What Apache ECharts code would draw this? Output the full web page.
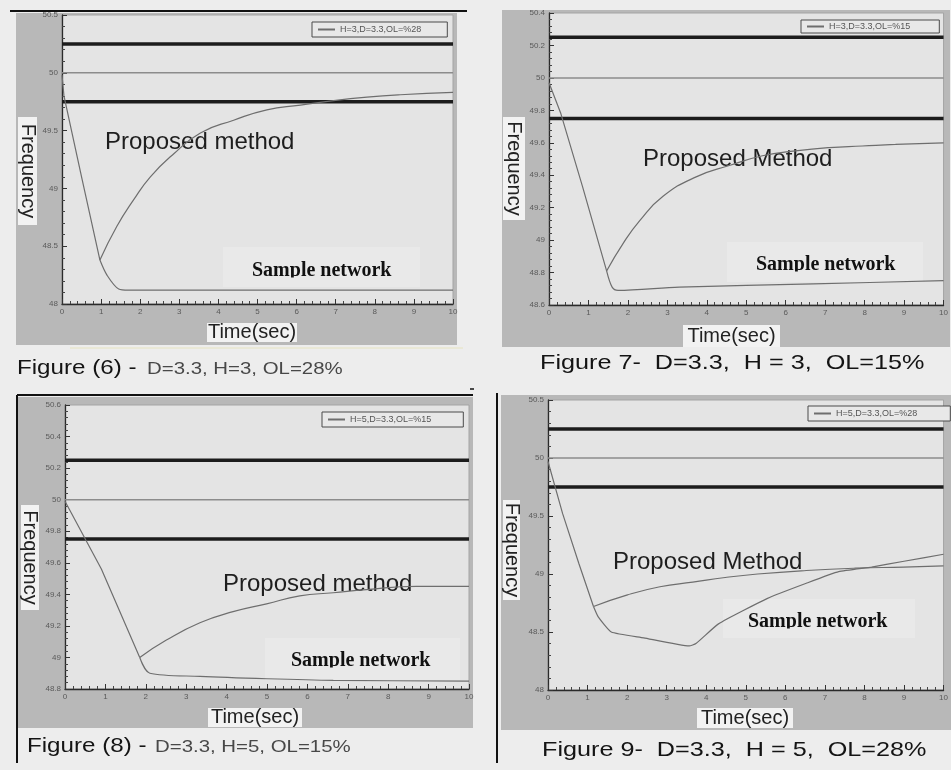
<!DOCTYPE html>
<html>
<head>
<meta charset="utf-8">
<script src="https://cdn.jsdelivr.net/npm/echarts@6/dist/echarts.min.js"></script>
<style>
  html, body { margin: 0; padding: 0; background: #ededed; }
  #chart { width: 951px; height: 770px; }
</style>
</head>
<body>
<div id="chart"></div>
<script>
// Frequency response (Hz) versus time (s) for four load-shedding cases.
// Each case: a shared initial drop, then the proposed-method branch and
// the sample-network branch.

const fig6Drop     = [[0,49.98],[0.05,49.8],[0.5,49.1],[0.97,48.38]];
const fig6Proposed = [[0.97,48.38],[1.4,48.67],[1.83,48.9],[2.26,49.1],[2.86,49.3],[3.54,49.48],[4.39,49.59],[5.24,49.68],[6.1,49.72],[6.95,49.76],[7.8,49.79],[8.65,49.81],[10,49.83]];
const fig6Sample   = [[0.97,48.38],[1.15,48.25],[1.45,48.13],[1.7,48.12],[10,48.12]];

const fig7Drop     = [[0,49.97],[0.3,49.78],[0.85,49.33],[1.46,48.81]];
const fig7Proposed = [[1.46,48.81],[1.88,48.98],[2.3,49.12],[2.89,49.27],[3.73,49.39],[4.57,49.46],[5.41,49.52],[6.25,49.55],[7.1,49.57],[7.94,49.58],[8.78,49.59],[10,49.6]];
const fig7Sample   = [[1.46,48.81],[1.6,48.71],[1.75,48.69],[3.3,48.71],[6.7,48.73],[10,48.75]];

const fig8Drop     = [[0,49.99],[0.9,49.56],[1.85,49.0]];
const fig8Proposed = [[1.85,49.0],[2.51,49.11],[3.34,49.22],[4.16,49.29],[4.99,49.34],[5.81,49.39],[6.64,49.41],[7.46,49.43],[8.7,49.45],[10,49.45]];
const fig8Sample   = [[1.85,49.0],[2.1,48.9],[3.34,48.88],[5,48.865],[6.64,48.855],[10,48.85]];

const fig9Drop     = [[0,49.97],[0.37,49.52],[0.78,49.09],[1.15,48.72]];
const fig9Proposed = [[1.15,48.72],[2.01,48.82],[2.83,48.89],[3.66,48.93],[4.48,48.97],[5.3,49.0],[6.53,49.03],[7.77,49.05],[8.99,49.06],[10,49.07]];
const fig9Sample   = [[1.15,48.72],[1.27,48.63],[1.6,48.5],[2.42,48.45],[3.57,48.38],[3.74,48.4],[4.31,48.57],[5.55,48.79],[6.53,48.92],[7.35,49.02],[8.18,49.06],[9.0,49.11],[10,49.17]];

// Frequency limits: upper band, nominal, lower band
const limitValues = [50.25, 50, 49.75];

// Axis ranges per figure: [min, max, interval]
const yRanges = [[48, 50.5, 0.5], [48.6, 50.4, 0.2], [48.8, 50.6, 0.2], [48, 50.5, 0.5]];
const xRange = [0, 10, 1];

const legendNames = ['H=3,D=3.3,OL=%28', 'H=3,D=3.3,OL=%15', 'H=5,D=3.3,OL=%15', 'H=5,D=3.3,OL=%28'];
const methodLabels = ['Proposed method', 'Proposed Method', 'Proposed method', 'Proposed Method'];
const networkLabel = 'Sample network';
const yTitle = 'Frequency';
const xTitle = 'Time(sec)';

const drops = [fig6Drop, fig7Drop, fig8Drop, fig9Drop];
const proposed = [fig6Proposed, fig7Proposed, fig8Proposed, fig9Proposed];
const samples = [fig6Sample, fig7Sample, fig8Sample, fig9Sample];

// ---- layout ----
const SANS = '"Liberation Sans", Arial, sans-serif';
const SERIF = '"Liberation Serif", "Times New Roman", serif';

const layout = [
  { grid: [62, 15, 391, 289],  frame: [16, 13, 441, 332],  legend: [312, 22, 26, 3],
    freq: [27.5, 171, 19, 108], time: [252, 332.5, 90, 19], method: [105, 142],
    box: [223, 247, 197, 40], net: [252, 277] },
  { grid: [549, 13, 396, 292], frame: [502, 10, 448, 337], legend: [801, 20, 29, 2],
    freq: [514, 168.5, 22, 103], time: [731.5, 336, 97, 22], method: [643, 159],
    box: [727, 242, 196, 40], net: [756, 271] },
  { grid: [65, 405, 404, 284], frame: [18, 397, 455, 331], legend: [322, 412, 32, 3],
    freq: [30, 557.5, 18, 105], time: [255, 717.5, 94, 19], method: [223, 584],
    box: [265, 638, 195, 42], net: [291, 667] },
  { grid: [548, 400, 406, 290], frame: [501, 395, 450, 335], legend: [808, 406, 33, 3],
    freq: [511.5, 550, 17, 100], time: [745, 718, 96, 20], method: [613, 562],
    box: [723, 599, 192, 39], net: [748, 628] }
];

const captions = [
  [{ t: 'Figure (6) -', x: 17, base: 375, fs: 21, sx: 1.15, c: '#141414' },
   { t: 'D=3.3, H=3, OL=28%', x: 147, base: 375, fs: 17, sx: 1.2, c: '#484848' }],
  [{ t: 'Figure 7-  D=3.3,  H = 3,  OL=15%', x: 540, base: 370, fs: 21, sx: 1.2, c: '#141414' }],
  [{ t: 'Figure (8) -', x: 27, base: 753, fs: 21, sx: 1.15, c: '#141414' },
   { t: 'D=3.3, H=5, OL=15%', x: 155, base: 753, fs: 17, sx: 1.2, c: '#484848' }],
  [{ t: 'Figure 9-  D=3.3,  H = 5,  OL=28%', x: 542, base: 757, fs: 21, sx: 1.2, c: '#141414' }]
];

const CURVE = '#6e6e6e';
const grids = [], xAxes = [], yAxes = [], series = [], legends = [], graphics = [];

function textEl(str, x, y, fs, family, fill, opts) {
  opts = opts || {};
  return {
    type: 'text', x: x, y: y, z: opts.z != null ? opts.z : 3,
    rotation: opts.rotation || 0, scaleX: opts.sx || 1, scaleY: 1, silent: true,
    style: {
      text: str, fill: fill, font: (opts.weight || 'normal') + ' ' + fs + 'px ' + family,
      textAlign: opts.align || 'left', align: opts.align || 'left',
      textVerticalAlign: 'middle', verticalAlign: 'middle'
    }
  };
}

layout.forEach(function (L, i) {
  const [gl, gt, gw, gh] = L.grid;
  grids.push({ left: gl, top: gt, width: gw, height: gh, show: true,
    backgroundColor: '#e4e4e4', borderColor: '#a4a4a4', borderWidth: 1 });

  const tickStyle = { color: '#333', width: 1 };
  xAxes.push({
    type: 'value', gridIndex: i, min: xRange[0], max: xRange[1], interval: xRange[2],
    axisLine: { show: true, onZero: false, lineStyle: { color: '#2a2a2a', width: 1.3 } },
    axisTick: { show: true, inside: true, length: 5, lineStyle: tickStyle },
    minorTick: { show: true, splitNumber: 5, length: 3, lineStyle: { color: '#444', width: 1 } },
    axisLabel: { fontSize: 8, color: '#5a5a5a', margin: 4, fontFamily: SANS },
    splitLine: { show: false }, minorSplitLine: { show: false }
  });
  const [ymin, ymax, yint] = yRanges[i];
  yAxes.push({
    type: 'value', gridIndex: i, min: ymin, max: ymax, interval: yint,
    axisLine: { show: true, onZero: false, lineStyle: { color: '#2a2a2a', width: 1.3 } },
    axisTick: { show: true, inside: true, length: 5, lineStyle: tickStyle },
    minorTick: { show: true, splitNumber: 5, length: 3, lineStyle: { color: '#444', width: 1 } },
    axisLabel: { fontSize: 8, color: '#5a5a5a', margin: 4, fontFamily: SANS },
    splitLine: { show: false }, minorSplitLine: { show: false }
  });

  // limit lines
  limitValues.forEach(function (v, k) {
    const nominal = k === 1;
    series.push({
      type: 'line', name: 'limit' + i + '_' + k, xAxisIndex: i, yAxisIndex: i,
      data: [[xRange[0], v], [xRange[1], v]], symbol: 'none', silent: true, z: 2,
      lineStyle: nominal ? { color: '#8c8c8c', width: 1.5 } : { color: '#1c1c1c', width: 3.5 },
      itemStyle: { color: nominal ? '#8c8c8c' : '#1c1c1c' }
    });
  });

  const common = { type: 'line', xAxisIndex: i, yAxisIndex: i, symbol: 'none', silent: true, z: 3,
    lineStyle: { color: CURVE, width: 1.2 }, itemStyle: { color: CURVE } };
  series.push(Object.assign({}, common, { name: 'drop' + i, data: drops[i], smooth: false }));
  series.push(Object.assign({}, common, { name: legendNames[i], data: proposed[i], smooth: 0.5 }));
  series.push(Object.assign({}, common, { name: 'network' + i, data: samples[i], smooth: i === 3 ? 0.15 : 0.3 }));

  const [ll, lt, lpr, lpv] = L.legend;
  legends.push({
    data: [legendNames[i]], left: ll, top: lt, orient: 'horizontal',
    icon: 'rect', itemWidth: 17, itemHeight: 2, selectedMode: false,
    padding: [lpv, lpr, lpv, 6], borderColor: '#4a4a4a', borderWidth: 1,
    backgroundColor: '#e8e8e8',
    textStyle: { fontSize: 9, color: '#555', fontFamily: SANS }
  });

  // outer grey frame
  const [fx, fy, fw, fh] = L.frame;
  graphics.push({ type: 'rect', z: -5, silent: true, shape: { x: fx, y: fy, width: fw, height: fh },
    style: { fill: '#b8b8b8' } });

  // axis titles on light boxes
  const [qx, qy, qw, qh] = L.freq;
  graphics.push({ type: 'rect', z: 1, silent: true, shape: { x: qx - qw / 2, y: qy - qh / 2, width: qw, height: qh },
    style: { fill: '#f2f2f2' } });
  graphics.push(textEl(yTitle, qx, qy, 20, SANS, '#222', { align: 'center', rotation: -Math.PI / 2, z: 2 }));
  const [tx, ty, tw, th] = L.time;
  graphics.push({ type: 'rect', z: 1, silent: true, shape: { x: tx - tw / 2, y: ty - th / 2, width: tw, height: th },
    style: { fill: '#f2f2f2' } });
  graphics.push(textEl(xTitle, tx, ty, 20, SANS, '#222', { align: 'center', z: 2 }));

  // method label
  graphics.push(textEl(methodLabels[i], L.method[0], L.method[1], 24, SANS, '#1e1e1e', { z: 1 }));

  // network label on its own box; the text is cut at its baseline
  const [bx, by, bw, bh] = L.box;
  graphics.push({ type: 'rect', z: 1, silent: true, shape: { x: bx, y: by, width: bw, height: bh },
    style: { fill: '#e9e9e9' } });
  graphics.push(textEl(networkLabel, L.net[0], L.net[1] - 6.5, 20, SERIF, '#111', { weight: 'bold', z: 1.2 }));
  graphics.push({ type: 'rect', z: 1.5, silent: true,
    shape: { x: bx, y: L.net[1] + 0.5, width: bw, height: by + bh - L.net[1] - 1.5 },
    style: { fill: '#e9e9e9' } });

  // captions
  captions[i].forEach(function (c) {
    graphics.push(textEl(c.t, c.x, c.base - 0.32 * c.fs, c.fs, SANS, c.c, { sx: c.sx, z: 3 }));
  });
});

// page rules around the figures
function rule(x1, y1, x2, y2, w, color) {
  return { type: 'line', z: 6, silent: true, shape: { x1: x1, y1: y1, x2: x2, y2: y2 },
    style: { stroke: color || '#111', lineWidth: w } };
}
graphics.push(rule(10, 11, 467, 11, 2));
graphics.push(rule(70, 348, 463, 348, 1, '#e6e3bf'));
graphics.push(rule(17, 395, 473, 395, 2));
graphics.push(rule(17, 395, 17, 763, 2));
graphics.push(rule(470, 389, 474, 389, 1.5));
graphics.push(rule(497, 393, 497, 763, 2));

const chart = echarts.init(document.getElementById('chart'), null, { renderer: 'canvas' });
chart.setOption({
  animation: false,
  backgroundColor: '#ededed',
  grid: grids,
  xAxis: xAxes,
  yAxis: yAxes,
  legend: legends,
  series: series,
  graphic: { elements: graphics }
});
</script>
</body>
</html>
